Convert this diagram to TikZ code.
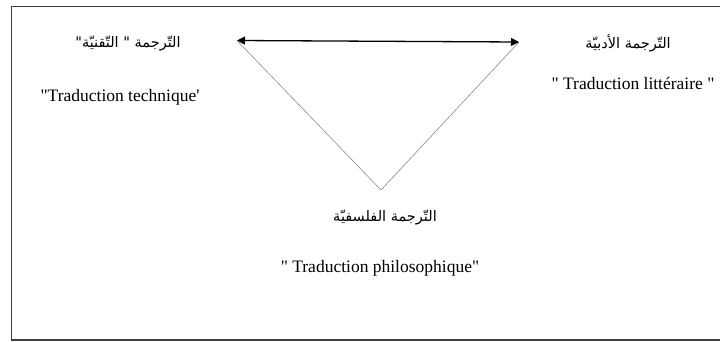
\documentclass[tikz,border=0pt]{standalone}
\usepackage{fontspec}
\setmainfont{Liberation Serif}
\newfontfamily\arabicfont[Script=Arabic]{DejaVu Sans}
\TeXXeTstate=1
\usetikzlibrary{arrows.meta}
\begin{document}
\begin{tikzpicture}[x=1pt,y=-1pt,
  ar/.style={font=\arabicfont\fontsize{14.5}{16}\selectfont, inner sep=0pt},
  fr/.style={font=\fontsize{17.5}{19}\selectfont, inner sep=0pt},
  side/.style={draw=black!45, line width=0.6pt},
  link/.style={line width=1.3pt, {Triangle[length=8pt,width=8pt]}-{Triangle[length=8pt,width=8pt]}}]
\useasboundingbox (0,0) rectangle (720,341);
\draw[line width=1.1pt, draw=black!75] (11.5,6.5) rectangle (740,340);
% vertices
\coordinate (L) at (237,40.5);
\coordinate (R) at (519,42);
\coordinate (B) at (381,190);
\draw[side] (L) -- (B) -- (R);
\draw[link] (L) -- (R);
% labels
\node[ar] (techar) at (128,43) {\beginR التّرجمة \textquotedbl{} التّقنيّة\textquotedbl\endR};
\node[fr] (techfr) at (120,97) {\textquotedbl Traduction technique\textquotesingle};
\node[ar] (litar) at (628,43) {\beginR التّرجمة الأدبيّة\endR};
\node[fr] (litfr) at (633,83) {\textquotedbl{} Traduction littéraire \textquotedbl};
\node[ar] (phiar) at (385,217) {\beginR التّرجمة الفلسفيّة\endR};
\node[fr] (phifr) at (380,268) {\textquotedbl{} Traduction philosophique\textquotedbl};
\end{tikzpicture}
\end{document}
